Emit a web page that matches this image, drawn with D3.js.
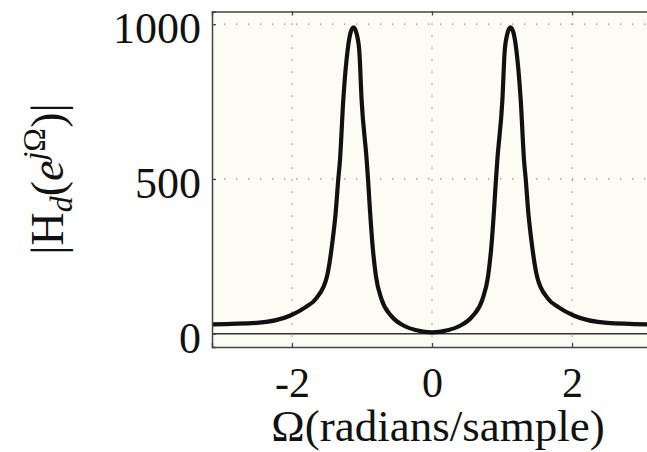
<!DOCTYPE html>
<html>
<head>
<meta charset="utf-8">
<script src="https://cdn.jsdelivr.net/npm/d3@7"></script>
<style>
  html, body { margin: 0; padding: 0; background: #ffffff; }
  svg { display: block; }
  text { font-family: "Liberation Serif", "DejaVu Serif", serif; fill: #111; }
</style>
</head>
<body>
<svg id="chart" width="647" height="452"></svg>
<script>
// Frequency axis values (radians/sample)
const omega = [-3.1416, -2.5, -2.03, -1.81, -1.65, -1.5, -1.42, -1.376, -1.338, -1.314, -1.267, -1.205, -1.16, -1.12,
               -1.08, -1.039, -1.005, -0.933, -0.914, -0.886, -0.852, -0.8, -0.719, -0.576, -0.386, -0.22, 0,
               0.22, 0.386, 0.576, 0.719, 0.8, 0.852, 0.886, 0.914, 0.933, 1.005, 1.039, 1.08, 1.12,
               1.16, 1.205, 1.267, 1.314, 1.338, 1.376, 1.42, 1.5, 1.65, 1.81, 2.03, 2.5, 3.1416];
// Magnitude |Hd(e^jΩ)|
const magnitude = [30, 35, 58, 85, 115, 185, 300, 390, 500, 561, 755, 916, 975, 990,
                   972, 916, 755, 561, 500, 400, 293, 185, 110, 56, 24, 11, 4,
                   11, 24, 56, 110, 185, 293, 400, 500, 561, 755, 916, 972, 990,
                   975, 916, 755, 561, 500, 390, 300, 185, 115, 85, 58, 35, 30];
const xTicks = [-2, 0, 2];
const yTicks = [0, 500, 1000];
const xLabel = "Ω(radians/sample)";

const svg = d3.select("#chart");
const mL = 212, mT = 11.5, mR = 652, mB = 347;

const x = d3.scaleLinear().domain([-Math.PI, Math.PI]).range([mL, mR]);
const y = d3.scaleLinear().domain([-43, 1041]).range([mB, mT]);

// background
svg.append("rect").attr("x", mL).attr("y", mT)
  .attr("width", mR - mL).attr("height", mB - mT)
  .attr("fill", "#fcfcf5");

// dotted grid
const grid = svg.append("g").attr("stroke", "#8a8a8a").attr("stroke-width", 1.3)
  .attr("stroke-dasharray", "1.3,10.7");
grid.selectAll("line.v").data(xTicks).join("line").attr("class", "v")
  .attr("x1", d => x(d)).attr("x2", d => x(d)).attr("y1", mT).attr("y2", mB);
grid.selectAll("line.h").data(yTicks.filter(d => d !== 0)).join("line").attr("class", "h")
  .attr("x1", mL).attr("x2", mR).attr("y1", d => y(d)).attr("y2", d => y(d));

// zero line
svg.append("line").attr("x1", mL).attr("x2", mR)
  .attr("y1", y(0)).attr("y2", y(0))
  .attr("stroke", "#333").attr("stroke-width", 1.5);

// clip
svg.append("clipPath").attr("id", "clip").append("rect")
  .attr("x", mL).attr("y", mT).attr("width", mR - mL).attr("height", mB - mT);

const pts = omega.map((o, i) => [o, magnitude[i]]);
const line = d3.line().x(d => x(d[0])).y(d => y(d[1])).curve(d3.curveMonotoneX);
svg.append("path").datum(pts).attr("clip-path", "url(#clip)")
  .attr("d", line).attr("fill", "none").attr("stroke", "#111")
  .attr("stroke-width", 4.2).attr("stroke-linejoin", "round");

// axes
const axB = svg.append("g").attr("transform", `translate(0,${mB})`)
  .call(d3.axisBottom(x).tickValues(xTicks).tickSize(-4).tickPadding(20).tickFormat(d3.format("d")));
const axT = svg.append("g").attr("transform", `translate(0,${mT})`)
  .call(d3.axisTop(x).tickValues(xTicks).tickSize(-4).tickFormat(""));
const axL = svg.append("g").attr("transform", `translate(${mL},0)`)
  .call(d3.axisLeft(y).tickValues(yTicks).tickSize(-4).tickPadding(11).tickFormat(d3.format("d")));
[axB, axT, axL].forEach(g => {
  g.select(".domain").attr("stroke", "#444").attr("stroke-width", 1.5);
  g.selectAll(".tick line").attr("stroke", "#444").attr("stroke-width", 1.3);
  g.selectAll("text").attr("font-family", "Liberation Serif").attr("font-size", 44).attr("fill", "#111");
});
axL.selectAll("text").attr("dy", "0.42em");
axB.selectAll("text").attr("font-size", 42).attr("dy", "0.71em").text(d => d < 0 ? "-" + Math.abs(d) : d);

// x label
svg.append("text").attr("x", 438).attr("y", 441).attr("text-anchor", "middle")
  .attr("font-size", 45).text(xLabel);

// y label
const yl = svg.append("text").attr("transform", "translate(63,179) rotate(-90)")
  .attr("text-anchor", "middle").attr("font-size", 46);
yl.append("tspan").text("|H");
yl.append("tspan").attr("font-style", "italic").attr("font-size", 32).attr("dy", 9).text("d");
yl.append("tspan").attr("dy", -9).text("(");
yl.append("tspan").attr("font-style", "italic").text("e");
yl.append("tspan").attr("font-style", "italic").attr("font-size", 32).attr("dy", -18).text("j");
yl.append("tspan").attr("font-size", 32).text("Ω");
yl.append("tspan").attr("dy", 18).text(")|");
</script>
</body>
</html>
